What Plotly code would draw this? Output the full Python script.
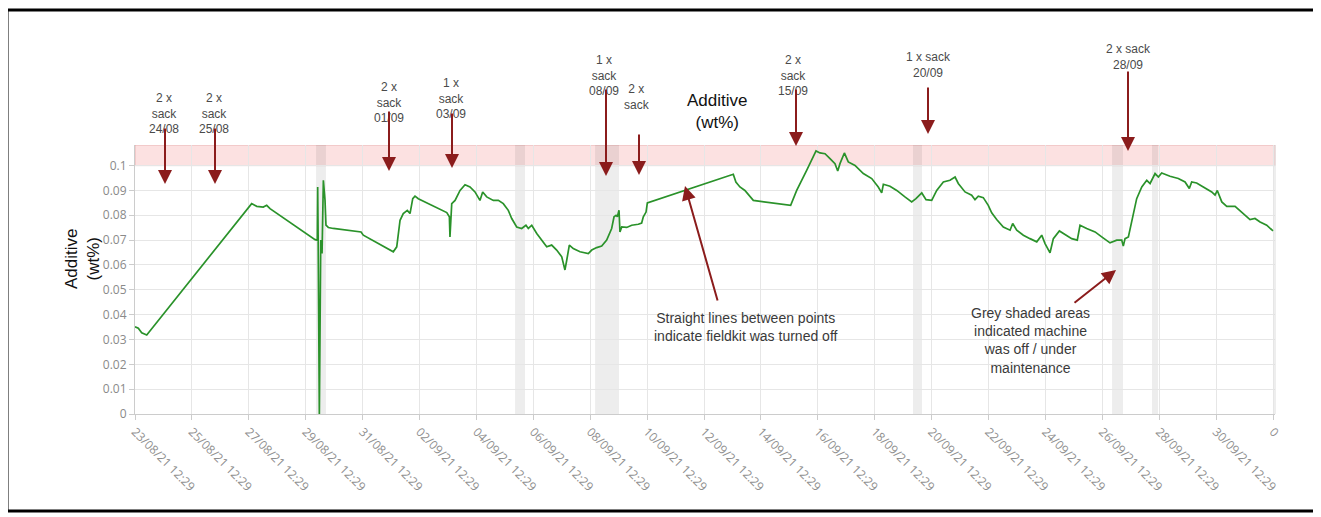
import plotly.graph_objects as go

# ---------------- data ----------------
times = [
    "2021-08-23 12:29", "2021-08-23 15:17", "2021-08-23 18:08", "2021-08-23 22:23",
    "2021-08-27 14:53", "2021-08-27 19:11", "2021-08-28 00:41", "2021-08-28 03:35", "2021-08-28 06:23",
    "2021-08-29 17:35", "2021-08-29 20:23", "2021-08-29 22:17", "2021-08-29 22:35", "2021-08-29 23:00",
    "2021-08-30 00:00", "2021-08-30 01:11", "2021-08-30 02:17", "2021-08-30 03:23", "2021-08-30 04:47",
    "2021-08-30 05:35", "2021-08-30 07:35", "2021-08-30 11:47",
    "2021-08-31 11:11", "2021-08-31 13:05",
    "2021-09-01 14:23", "2021-09-01 17:17", "2021-09-01 20:05", "2021-09-01 22:47",
    "2021-09-02 02:11", "2021-09-02 04:29", "2021-09-02 06:47", "2021-09-02 08:41", "2021-09-02 11:29",
    "2021-09-03 11:29", "2021-09-03 13:41", "2021-09-03 14:11", "2021-09-03 14:47", "2021-09-03 15:41",
    "2021-09-03 18:29", "2021-09-03 22:41",
    "2021-09-04 02:53", "2021-09-04 07:05", "2021-09-04 11:17", "2021-09-04 15:29", "2021-09-04 17:47",
    "2021-09-04 21:11",
    "2021-09-05 02:47", "2021-09-05 06:59", "2021-09-05 11:11", "2021-09-05 15:23", "2021-09-05 18:17",
    "2021-09-05 22:29",
    "2021-09-06 02:41", "2021-09-06 06:17", "2021-09-06 08:17", "2021-09-06 11:11", "2021-09-06 15:23",
    "2021-09-06 20:53", "2021-09-06 23:47",
    "2021-09-07 03:59", "2021-09-07 08:11", "2021-09-07 12:29", "2021-09-07 15:11", "2021-09-07 16:41",
    "2021-09-07 18:53", "2021-09-07 22:11",
    "2021-09-08 03:53", "2021-09-08 10:53", "2021-09-08 13:47", "2021-09-08 17:59", "2021-09-08 22:11",
    "2021-09-09 02:23", "2021-09-09 06:35", "2021-09-09 08:35", "2021-09-09 10:17", "2021-09-09 11:23",
    "2021-09-09 12:47", "2021-09-09 13:35", "2021-09-09 15:05", "2021-09-09 19:17", "2021-09-09 23:29",
    "2021-09-10 05:05", "2021-09-10 07:53", "2021-09-10 09:17", "2021-09-10 11:35", "2021-09-10 12:41",
    "2021-09-13 13:11", "2021-09-13 15:23", "2021-09-13 18:47", "2021-09-13 22:59",
    "2021-09-14 03:17", "2021-09-14 06:05",
    "2021-09-15 13:35", "2021-09-15 15:47", "2021-09-15 18:41",
    "2021-09-16 03:05", "2021-09-16 10:59", "2021-09-16 14:17", "2021-09-16 18:35", "2021-09-16 22:47",
    "2021-09-17 02:59", "2021-09-17 05:17", "2021-09-17 07:11", "2021-09-17 10:53", "2021-09-17 14:11",
    "2021-09-17 19:53",
    "2021-09-18 02:53", "2021-09-18 09:59", "2021-09-18 15:29", "2021-09-18 18:23", "2021-09-18 19:47",
    "2021-09-19 01:23", "2021-09-19 07:05", "2021-09-19 13:59", "2021-09-19 19:41", "2021-09-19 23:17",
    "2021-09-20 04:11", "2021-09-20 07:47", "2021-09-20 12:35", "2021-09-20 16:47", "2021-09-20 22:23",
    "2021-09-21 03:59", "2021-09-21 08:17", "2021-09-21 10:59", "2021-09-21 16:41", "2021-09-21 22:17",
    "2021-09-22 01:05", "2021-09-22 03:53", "2021-09-22 08:05", "2021-09-22 12:17", "2021-09-22 15:11",
    "2021-09-22 19:23",
    "2021-09-23 00:59", "2021-09-23 06:41", "2021-09-23 08:53", "2021-09-23 12:17", "2021-09-23 17:53",
    "2021-09-23 23:29",
    "2021-09-24 05:11", "2021-09-24 09:23", "2021-09-24 12:11", "2021-09-24 16:23", "2021-09-24 19:11",
    "2021-09-25 00:17", "2021-09-25 04:59", "2021-09-25 10:41", "2021-09-25 15:23", "2021-09-25 17:41",
    "2021-09-25 23:17",
    "2021-09-26 06:23", "2021-09-26 11:59", "2021-09-26 18:59",
    "2021-09-27 00:41", "2021-09-27 04:53", "2021-09-27 06:11", "2021-09-27 07:41", "2021-09-27 10:29",
    "2021-09-27 13:17", "2021-09-27 17:29", "2021-09-27 21:47",
    "2021-09-28 01:59", "2021-09-28 04:47", "2021-09-28 08:59", "2021-09-28 11:47", "2021-09-28 14:35",
    "2021-09-28 21:35",
    "2021-09-29 04:35", "2021-09-29 10:17", "2021-09-29 13:53", "2021-09-29 15:53", "2021-09-29 20:05",
    "2021-09-30 01:41", "2021-09-30 08:47", "2021-09-30 11:35", "2021-09-30 13:29", "2021-09-30 17:17",
    "2021-09-30 21:29",
    "2021-10-01 04:29", "2021-10-01 10:05", "2021-10-01 17:05", "2021-10-01 21:17",
    "2021-10-02 01:35", "2021-10-02 07:11", "2021-10-02 12:29",
]

additive = [
    0.0351, 0.0345, 0.0327, 0.0318,
    0.0847, 0.0836, 0.0833, 0.0840, 0.0827,
    0.0713, 0.0702, 0.0700, 0.0914, 0.0700,
    0.0000, 0.0700, 0.0646, 0.0941, 0.0860,
    0.0760, 0.0751, 0.0747,
    0.0733, 0.0720,
    0.0653, 0.0673, 0.0780, 0.0807,
    0.0820, 0.0807, 0.0867, 0.0877, 0.0867,
    0.0811, 0.0794, 0.0713, 0.0787, 0.0847,
    0.0860, 0.0900,
    0.0923, 0.0914, 0.0894, 0.0860, 0.0894,
    0.0874,
    0.0860, 0.0860, 0.0847, 0.0820, 0.0787,
    0.0753,
    0.0747, 0.0760, 0.0747, 0.0760, 0.0727,
    0.0693, 0.0673,
    0.0680, 0.0660, 0.0633, 0.0580, 0.0619,
    0.0680, 0.0666,
    0.0653, 0.0646, 0.0660, 0.0670, 0.0676,
    0.0700, 0.0747, 0.0794, 0.0800, 0.0794,
    0.0820, 0.0733, 0.0753, 0.0751, 0.0760,
    0.0764, 0.0769, 0.0794, 0.0813, 0.0850,
    0.0965, 0.0934, 0.0914, 0.0900,
    0.0877, 0.0860,
    0.0840, 0.0867, 0.0900,
    0.0981, 0.1059, 0.1051, 0.1048, 0.1028,
    0.1008, 0.0978, 0.1008, 0.1051, 0.1015,
    0.1001,
    0.0968, 0.0948, 0.0914, 0.0890, 0.0925,
    0.0917, 0.0900, 0.0874, 0.0854, 0.0867,
    0.0890, 0.0863, 0.0860, 0.0900, 0.0934,
    0.0941, 0.0954, 0.0928, 0.0894, 0.0881,
    0.0863, 0.0877, 0.0871, 0.0840, 0.0810,
    0.0783,
    0.0753, 0.0740, 0.0767, 0.0740, 0.0720,
    0.0706,
    0.0693, 0.0720, 0.0686, 0.0649, 0.0706,
    0.0737, 0.0724, 0.0706, 0.0700, 0.0760,
    0.0747,
    0.0733, 0.0713, 0.0689,
    0.0700, 0.0700, 0.0676, 0.0706, 0.0713,
    0.0780, 0.0867, 0.0914,
    0.0941, 0.0928, 0.0968, 0.0954, 0.0970,
    0.0957,
    0.0948, 0.0934, 0.0908, 0.0934, 0.0930,
    0.0914, 0.0894, 0.0881, 0.0900, 0.0854,
    0.0836,
    0.0836, 0.0813, 0.0783, 0.0787,
    0.0773, 0.0760, 0.0737,
]

x_tickvals = [
    "2021-08-23 12:29", "2021-08-25 12:29", "2021-08-27 12:29", "2021-08-29 12:29",
    "2021-08-31 12:29", "2021-09-02 12:29", "2021-09-04 12:29", "2021-09-06 12:29",
    "2021-09-08 12:29", "2021-09-10 12:29", "2021-09-12 12:29", "2021-09-14 12:29",
    "2021-09-16 12:29", "2021-09-18 12:29", "2021-09-20 12:29", "2021-09-22 12:29",
    "2021-09-24 12:29", "2021-09-26 12:29", "2021-09-28 12:29", "2021-09-30 12:29",
    "2021-10-02 12:29",
]
x_ticktext = [
    "23/08/21 12:29", "25/08/21 12:29", "27/08/21 12:29", "29/08/21 12:29",
    "31/08/21 12:29", "02/09/21 12:29", "04/09/21 12:29", "06/09/21 12:29",
    "08/09/21 12:29", "10/09/21 12:29", "12/09/21 12:29", "14/09/21 12:29",
    "16/09/21 12:29", "18/09/21 12:29", "20/09/21 12:29", "22/09/21 12:29",
    "24/09/21 12:29", "26/09/21 12:29", "28/09/21 12:29", "30/09/21 12:29",
    "0",
]
y_tickvals = [0, 0.01, 0.02, 0.03, 0.04, 0.05, 0.06, 0.07, 0.08, 0.09, 0.1]
y_ticktext = ["0", "0.01", "0.02", "0.03", "0.04", "0.05", "0.06", "0.07", "0.08", "0.09", "0.1"]

# machine off / maintenance periods (grey shading)
off_start = ["2021-08-29 21:11", "2021-09-05 21:05", "2021-09-08 16:35",
             "2021-09-19 20:47", "2021-09-26 20:41", "2021-09-28 06:23"]
off_end = ["2021-08-30 05:35", "2021-09-06 05:29", "2021-09-09 12:47",
           "2021-09-20 04:23", "2021-09-27 05:59", "2021-09-28 11:29"]

target_low = 0.1
y_max = 0.1083

sack_labels = ["2 x<br>sack<br>24/08", "2 x<br>sack<br>25/08", "2 x<br>sack<br>01/09",
               "1 x<br>sack<br>03/09", "1 x<br>sack<br>08/09", "2 x<br>sack",
               "2 x<br>sack<br>15/09", "1 x sack<br>20/09", "2 x sack<br>28/09"]

# ---------------- layout geometry ----------------
W, H = 1321, 517          # reference picture size
PAGE = 8                  # html body margin
L, R, T, B = 135, 1275, 145, 414   # plot area in reference pixels


def px(x):
    return (x - L) / (R - L)


def py(y):
    return (B - y) / (B - T)


fig = go.Figure()
fig.add_trace(go.Scatter(
    x=times, y=additive, mode="lines",
    line=dict(color="#2a922a", width=1.7),
    hoverinfo="x+y", showlegend=False,
))

shapes = []
# target band
shapes.append(dict(type="rect", xref="paper", yref="y", x0=0, x1=1, y0=target_low, y1=y_max,
                   fillcolor="rgba(240,90,90,0.18)", line=dict(color="rgba(220,150,150,0.6)", width=1),
                   layer="below"))
for s, e in zip(off_start, off_end):
    shapes.append(dict(type="rect", xref="x", yref="paper", x0=s, x1=e, y0=0, y1=1,
                       fillcolor="rgba(0,0,0,0.07)", line=dict(width=0), layer="below"))
# right edge of plot frame
shapes.append(dict(type="line", xref="paper", yref="paper", x0=1, x1=1, y0=0, y1=1,
                   line=dict(color="#dddddd", width=1)))
# outer black frame
shapes.append(dict(type="rect", xref="paper", yref="paper",
                   x0=px(7), x1=px(1316), y0=py(511), y1=py(10),
                   fillcolor="rgba(0,0,0,0)", line=dict(color="black", width=3)))

annotations = []
label_pos = [(164, 114), (214, 114), (389, 102), (451, 99), (604, 75), (637, 97),
             (793, 75), (928, 65), (1128, 57)]
for txt, (cx, cy) in zip(sack_labels, label_pos):
    annotations.append(dict(xref="paper", yref="paper", x=px(cx), y=py(cy), text=txt,
                            showarrow=False, xanchor="center", yanchor="middle",
                            font=dict(family="Liberation Sans, Arial", size=12, color="#4a4a4a")))

arrow_color = "#8b1c1c"
arrows = [((165, 127), (165, 184)), ((215, 127), (215, 184)), ((389, 110), (389, 171)),
          ((452, 112), (452, 168)), ((606, 88), (606, 176)), ((639, 133), (639, 175)),
          ((796, 88), (796, 146)), ((928, 86), (928, 134)), ((1128, 70), (1128, 151)),
          ((718, 302), (685, 186)), ((1073, 304), (1116, 270))]
for (tx, ty), (hx, hy) in arrows:
    annotations.append(dict(xref="paper", yref="paper", x=px(hx), y=py(hy),
                            ax=tx - hx, ay=ty - hy, text="", showarrow=True,
                            arrowhead=2, arrowsize=1.4, arrowwidth=2, arrowcolor=arrow_color,
                            standoff=0, startstandoff=0))

annotations.append(dict(xref="paper", yref="paper", x=px(717), y=py(112),
                        text="Additive<br>(wt%)", showarrow=False,
                        xanchor="center", yanchor="middle",
                        font=dict(family="Liberation Sans, Arial", size=17, color="#111111")))
annotations.append(dict(xref="paper", yref="paper", x=px(82), y=py(259),
                        text="Additive<br>(wt%)", showarrow=False, textangle=-90,
                        xanchor="center", yanchor="middle",
                        font=dict(family="Liberation Sans, Arial", size=17, color="#111111")))
annotations.append(dict(xref="paper", yref="paper", x=px(746), y=py(327),
                        text="Straight lines between points<br>indicate fieldkit was turned off",
                        showarrow=False, xanchor="center", yanchor="middle",
                        font=dict(family="Liberation Sans, Arial", size=14, color="#3a3a3a")))
annotations.append(dict(xref="paper", yref="paper", x=px(1030), y=py(340),
                        text="Grey shaded areas<br>indicated machine<br>was off / under<br>maintenance",
                        showarrow=False, xanchor="center", yanchor="middle",
                        font=dict(family="Liberation Sans, Arial", size=14, color="#3a3a3a")))

fig.update_layout(
    width=W - PAGE, height=H - PAGE,
    margin=dict(l=L - PAGE, r=W - R, t=T - PAGE, b=H - B, pad=0),
    paper_bgcolor="white", plot_bgcolor="white",
    shapes=shapes, annotations=annotations,
    xaxis=dict(range=["2021-08-23 12:29", "2021-10-02 14:10"], tickmode="array",
               tickvals=x_tickvals, ticktext=x_ticktext, tickangle=45,
               showgrid=True, gridcolor="#e6e6e6", gridwidth=1,
               showline=True, linecolor="#cccccc", linewidth=1,
               ticks="outside", ticklen=5, tickcolor="#cccccc",
               tickfont=dict(family="Open Sans, Noto Sans", size=12, color="#8f8f8f"),
               zeroline=False),
    yaxis=dict(range=[0, y_max], tickmode="array", tickvals=y_tickvals, ticktext=y_ticktext,
               showgrid=True, gridcolor="#e6e6e6", gridwidth=1,
               showline=True, linecolor="#cccccc", linewidth=1,
               ticks="outside", ticklen=5, tickcolor="#cccccc",
               tickfont=dict(family="Open Sans, Noto Sans", size=12, color="#8a8a8a"),
               zeroline=False),
)

fig.write_html("out.html")
